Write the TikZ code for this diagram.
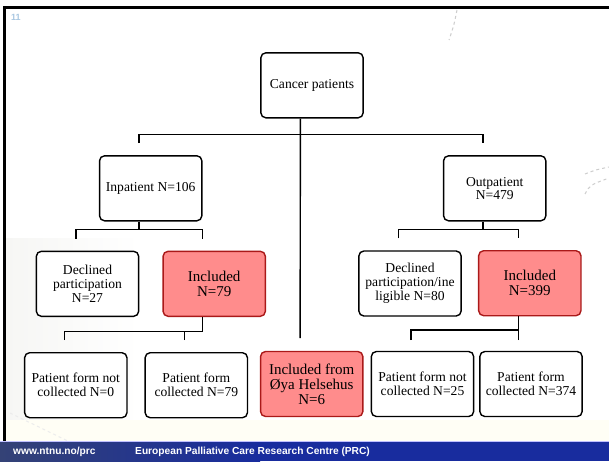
\documentclass[tikz,border=0pt]{standalone}
\usepackage{fontspec}
\setmainfont{Liberation Serif}
\newfontfamily\arialfont{Liberation Sans}
\usetikzlibrary{calc}
\definecolor{inclfill}{RGB}{255,140,140}
\definecolor{incldraw}{RGB}{170,25,25}
\definecolor{bandblue}{RGB}{24,44,158}
\definecolor{banddark}{RGB}{52,66,118}
\definecolor{pagenum}{RGB}{170,200,226}
\definecolor{decogray}{RGB}{205,205,205}
\definecolor{paletone}{RGB}{246,246,244}
\begin{document}
\begin{tikzpicture}[x=1pt,y=-1pt,
  box/.style={draw=black, line width=1.4pt, rounded corners=5pt, fill=white,
    minimum width=102.3pt, minimum height=65pt, inner sep=0pt, align=center,
    font=\fontsize{13.6}{14}\selectfont},
  tightbox/.style={box, font=\fontsize{13.6}{11.8}\selectfont},
  inclbox/.style={box, draw=incldraw, fill=inclfill, font=\fontsize{15}{15}\selectfont},
  conn/.style={draw=black, line width=1.4pt, line join=miter}]
\useasboundingbox (0,0) rectangle (609,461);
\fill[white] (0,0) rectangle (609,461);
% subtle background tones
\shade[left color=paletone, right color=white] (5,238) rectangle (140,420);
\fill[yellow!4!white] (5,420) rectangle (609,442);
% decorative faint dashes
\draw[decogray, dashed, line width=1pt] (457,10) .. controls (454,25) .. (449,40);
\draw[decogray, dashed, line width=1pt] (585,174) .. controls (595,170) .. (609,167);
\draw[decogray, dashed, line width=1pt] (585,194) .. controls (590,185) .. (609,178);
\draw[gray!15, dashed, line width=1pt] (10,413) -- (103,458);
% frame
\draw[black, line width=3pt] (4.5,442) -- (4.5,7.2) -- (609,7.2);
% bottom band
\fill[bandblue] (0,441.5) rectangle (609,461);
\shade[left color=banddark, right color=bandblue] (0,442) rectangle (260,461);
\draw[blue!25!white, line width=1pt] (0,441.8) -- (609,441.8);
\node[anchor=west, text=white, inner sep=0pt, font=\arialfont\bfseries\fontsize{10.2}{10.2}\selectfont] (url) at (13,452) {www.ntnu.no/prc};
\node[anchor=west, text=white, inner sep=0pt, font=\arialfont\bfseries\fontsize{10.2}{10.2}\selectfont] (prc) at (135,452) {European Palliative Care Research Centre (PRC)};
\node[anchor=west, text=pagenum, inner sep=0pt, font=\arialfont\bfseries\fontsize{9}{9}\selectfont] (pnum) at (11,17) {11};
% boxes
\node[box] (cancer) at (312,85.3) {Cancer patients};
\node[box] (inpat) at (150.7,188.3) {Inpatient N=106};
\node[tightbox] (outpat) at (494.7,188.3) {Outpatient\\N=479};
\node[box] (decl1) at (87.5,283.8) {Declined\\participation\\N=27};
\node[inclbox] (incl1) at (214.2,283.8) {Included\\N=79};
\node[box] (decl2) at (410,283.5) {Declined\\participation/ine\\ligible N=80};
\node[inclbox] (incl2) at (529.8,283.2) {Included\\N=399};
\node[box] (pf1) at (75.8,385.2) {Patient form not\\collected N=0};
\node[box] (pf2) at (196.3,385.2) {Patient form\\collected N=79};
\node[inclbox] (oya) at (311.7,384) {Included from\\Øya Helsehus\\N=6};
\node[box] (pf3) at (422.5,384) {Patient form not\\collected N=25};
\node[box] (pf4) at (531,384) {Patient form\\collected N=374};
% connectors
\draw[conn] ($(cancer.south)+(-11.6,0)$) -- ($(oya.north)+(-11.6,-12.7)$);
\draw[conn] ($(inpat.north)+(-11.6,-12)$) -- ++(0,-8.5) -| ($(outpat.north)+(-11.6,-12)$);
\draw[conn] ($(inpat.south)+(-11.6,0)$) -- ++(0,8.3);
\draw[conn] ($(decl1.north)+(-11.6,-12)$) -- ++(0,-9) -| ($(incl1.north)+(-11.6,-12)$);
\draw[conn] ($(outpat.south)+(-11.6,0)$) -- ++(0,8.3);
\draw[conn] ($(decl2.north)+(-11.6,-12)$) -- ++(0,-9) -| ($(incl2.north)+(-11.6,-12)$);
\draw[conn] ($(pf1.north)+(-11.6,-12)$) -- ++(0,-8.3) -| ($(incl1.south)+(-11.6,0)$);
\draw[conn] ($(pf2.north)+(-11.6,-12)$) -- ++(0,-8.3);
\draw[conn] ($(pf3.north)+(-11.6,-10.7)$) -- ++(0,-10) -| ($(incl2.south)+(-11.6,0)$);
\draw[conn] ($(pf4.north)+(-12.7,-10.7)$) -- ++(0,-10);
\end{tikzpicture}
\end{document}
